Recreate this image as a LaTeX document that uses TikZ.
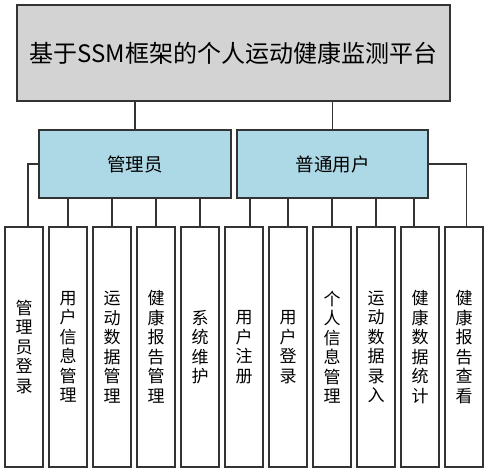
\documentclass[tikz,border=0pt]{standalone}
\usepackage{fontspec}
\setmainfont{Noto Sans CJK SC}
\usetikzlibrary{calc}
\definecolor{edgec}{HTML}{333333}
\definecolor{topfill}{HTML}{D3D3D3}
\definecolor{midfill}{HTML}{ADD8E6}
\tikzset{
  boxbase/.style={draw=edgec, line width=1.4pt, rectangle, inner sep=0pt, text=black},
  topbox/.style={boxbase, fill=topfill, minimum width=433pt, minimum height=96pt, font=\fontsize{24}{28}\selectfont},
  midbox/.style={boxbase, fill=midfill, minimum height=68pt, font=\fontsize{18.5}{22}\selectfont},
  leafbox/.style={boxbase, fill=white, minimum width=38pt, minimum height=240pt, align=center, font=\fontsize{17}{19.5}\selectfont},
  conn/.style={draw=edgec, line width=1.3pt}
}
\begin{document}
\begin{tikzpicture}[x=1pt, y=-1pt]
\useasboundingbox (0,0) rectangle (489,473);
\node[topbox] (top) at (233.5,53) {基于SSM框架的个人运动健康监测平台};
\node[midbox, minimum width=192pt] (m1) at (135,164) {管理员};
\node[midbox, minimum width=191pt] (m2) at (332.5,164) {普通用户};

\node[leafbox] (b1) at (24,347) {管\\理\\员\\登\\录};
\node[leafbox] (b2) at (68,347) {用\\户\\信\\息\\管\\理};
\node[leafbox] (b3) at (112,347) {运\\动\\数\\据\\管\\理};
\node[leafbox] (b4) at (156,347) {健\\康\\报\\告\\管\\理};
\node[leafbox] (b5) at (200,347) {系\\统\\维\\护};
\node[leafbox] (b6) at (244,347) {用\\户\\注\\册};
\node[leafbox] (b7) at (288,347) {用\\户\\登\\录};
\node[leafbox] (b8) at (332,347) {个\\人\\信\\息\\管\\理};
\node[leafbox] (b9) at (376,347) {运\\动\\数\\据\\录\\入};
\node[leafbox] (b10) at (420,347) {健\\康\\数\\据\\统\\计};
\node[leafbox] (b11) at (464,347) {健\\康\\报\\告\\查\\看};

\draw[conn] (top.south -| m1.north) -- (m1.north);
\draw[conn] (top.south -| m2.north) -- (m2.north);

\draw[conn] (m1.west) -| ($(b1.north)+(4,0)$);
\draw[conn] (m1.south -| b2.north) -- (b2.north);
\draw[conn] (m1.south -| b3.north) -- (b3.north);
\draw[conn] (m1.south -| b4.north) -- (b4.north);
\draw[conn] (m1.south -| b5.north) -- (b5.north);

\draw[conn] ($(m2.south -| b6.north)+(6,0)$) -- ($(b6.north)+(6,0)$);
\draw[conn] (m2.south -| b7.north) -- (b7.north);
\draw[conn] (m2.south -| b8.north) -- (b8.north);
\draw[conn] (m2.south -| b9.north) -- (b9.north);
\draw[conn] ($(m2.south -| b10.north)+(-6,0)$) -- ($(b10.north)+(-6,0)$);
\draw[conn] (m2.east) -| ($(b11.north)+(2.7,0)$);
\end{tikzpicture}
\end{document}
